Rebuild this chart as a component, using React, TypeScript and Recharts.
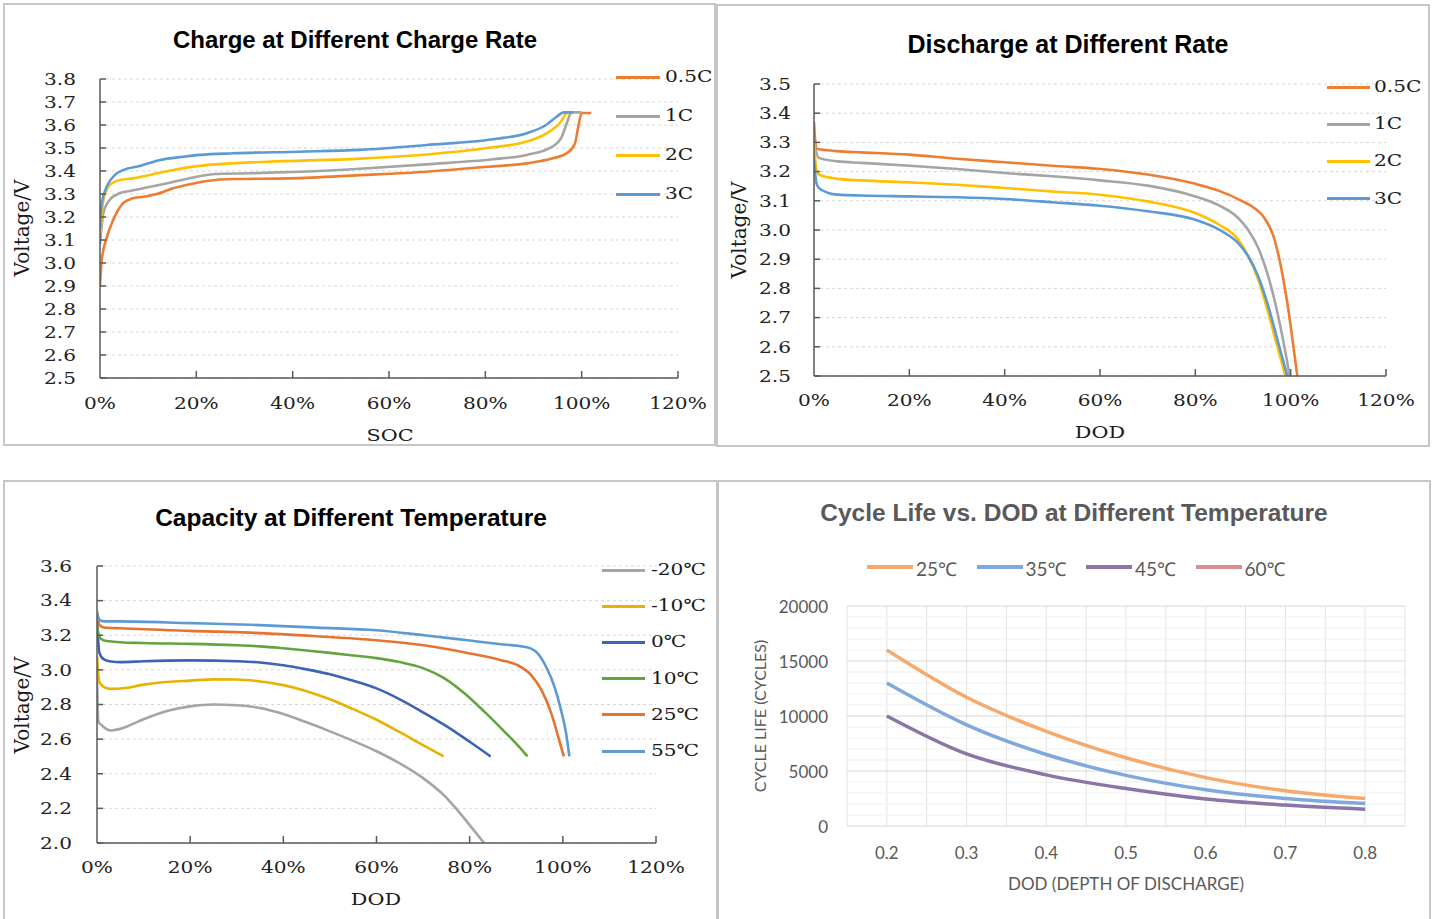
import React from 'react';
import { LineChart, Line, XAxis, YAxis, CartesianGrid } from 'recharts';

const SERIF = '"DejaVu Serif", "Liberation Serif", serif';
const SANS = '"Liberation Sans", Arial, sans-serif';
const LATO = 'Lato, Carlito, "Noto Sans", sans-serif';
const AXIS = '#595959';
const SX = 1.22; // horizontal stretch of the serif labels in the reference

// ---------- Panel 1: Charge at Different Charge Rate ----------
const chargeXTicks = [0, 20, 40, 60, 80, 100, 120];
const chargeYTicks = [2.5, 2.6, 2.7, 2.8, 2.9, 3.0, 3.1, 3.2, 3.3, 3.4, 3.5, 3.6, 3.7, 3.8];
const charge05C = [[0, 2.9], [0.35, 3.01], [1.4, 3.11], [2.8, 3.19], [4.8, 3.26], [6.6, 3.28], [9, 3.288], [11.8, 3.3], [15.2, 3.325], [19.4, 3.346], [24, 3.361], [27.7, 3.365], [39.4, 3.368], [54, 3.382], [67.8, 3.397], [81.6, 3.42], [88.6, 3.433], [94, 3.455], [96.9, 3.477], [98.6, 3.52], [99.3, 3.593], [100, 3.652], [102, 3.652]];
const charge1C = [[0, 3.08], [0.7, 3.216], [2, 3.274], [4.1, 3.303], [6.2, 3.313], [9, 3.325], [13.8, 3.346], [19.4, 3.372], [24, 3.387], [31, 3.39], [41.5, 3.397], [54, 3.41], [67.8, 3.429], [81.6, 3.451], [88.6, 3.47], [93.3, 3.499], [95.7, 3.542], [96.9, 3.607], [97.9, 3.655], [100, 3.655]];
const charge2C = [[0, 3.125], [0.7, 3.274], [2, 3.339], [4.1, 3.361], [6.9, 3.368], [10.4, 3.383], [15.2, 3.404], [19.4, 3.419], [24, 3.429], [34.6, 3.44], [54, 3.454], [67.8, 3.472], [81.6, 3.503], [88.6, 3.528], [93.3, 3.571], [95.7, 3.614], [96.9, 3.652], [98.3, 3.652]];
const charge3C = [[0, 3.155], [0.35, 3.259], [1.4, 3.332], [3.1, 3.383], [4.8, 3.404], [8.3, 3.422], [12.5, 3.448], [17.3, 3.462], [20.8, 3.47], [27.7, 3.477], [41.5, 3.484], [54, 3.492], [67.8, 3.513], [81.6, 3.538], [88.6, 3.564], [92.6, 3.6], [94.8, 3.636], [96.3, 3.655], [98.3, 3.655]];

// ---------- Panel 2: Discharge at Different Rate ----------
const dischargeXTicks = [0, 20, 40, 60, 80, 100, 120];
const dischargeYTicks = [2.5, 2.6, 2.7, 2.8, 2.9, 3.0, 3.1, 3.2, 3.3, 3.4, 3.5];
const dis05C = [[0, 3.37], [0.5, 3.278], [4.8, 3.27], [10, 3.266], [20, 3.258], [30, 3.244], [40, 3.232], [50, 3.22], [60, 3.209], [70, 3.19], [80, 3.158], [85, 3.134], [89.7, 3.1], [92.5, 3.074], [94.5, 3.041], [96.4, 2.978], [97.8, 2.887], [99.2, 2.761], [100.2, 2.647], [101.4, 2.5]];
const dis1C = [[0, 3.3], [1, 3.247], [5, 3.235], [10, 3.23], [20, 3.22], [30, 3.209], [40, 3.195], [50, 3.184], [60, 3.17], [70, 3.152], [80, 3.115], [85, 3.084], [89, 3.041], [91.1, 3.0], [93.2, 2.938], [95.3, 2.841], [97, 2.733], [98.4, 2.624], [99.8, 2.5]];
const dis2C = [[0, 3.3], [0.5, 3.207], [1, 3.19], [5, 3.175], [10, 3.17], [20, 3.163], [30, 3.155], [40, 3.144], [50, 3.132], [60, 3.121], [70, 3.098], [80, 3.058], [85, 3.018], [89, 2.967], [91.1, 2.91], [93.2, 2.83], [95.3, 2.716], [97, 2.613], [98.9, 2.5]];
const dis3C = [[0, 3.24], [0.5, 3.161], [1, 3.144], [3, 3.127], [5, 3.121], [10, 3.118], [20, 3.115], [30, 3.112], [40, 3.106], [50, 3.095], [60, 3.083], [70, 3.064], [80, 3.035], [85, 3.001], [89, 2.955], [91.1, 2.91], [93.2, 2.841], [95.3, 2.739], [97.4, 2.613], [99.3, 2.5]];

// ---------- Panel 3: Capacity at Different Temperature ----------
const tempXTicks = [0, 20, 40, 60, 80, 100, 120];
const tempYTicks = [2.0, 2.2, 2.4, 2.6, 2.8, 3.0, 3.2, 3.4, 3.6];
const tM20 = [[0, 2.95], [0.3, 2.7], [1, 2.68], [3, 2.65], [5, 2.66], [10, 2.715], [15, 2.762], [20, 2.789], [25, 2.8], [30, 2.796], [35, 2.78], [40, 2.745], [45, 2.697], [50, 2.645], [55, 2.59], [60, 2.53], [65, 2.46], [70, 2.375], [74.5, 2.275], [78, 2.17], [81, 2.07], [83.1, 2.0]];
const tM10 = [[0, 3.08], [0.5, 2.93], [1.5, 2.9], [3, 2.89], [6, 2.895], [10, 2.915], [15, 2.93], [20, 2.938], [25, 2.945], [30, 2.944], [35, 2.933], [40, 2.912], [45, 2.877], [50, 2.83], [55, 2.773], [60, 2.712], [65, 2.64], [70, 2.565], [74.4, 2.5]];
const t0 = [[0, 3.3], [0.5, 3.1], [1.5, 3.06], [3, 3.048], [5, 3.045], [10, 3.05], [20, 3.055], [30, 3.05], [35, 3.043], [40, 3.027], [45, 3.003], [50, 2.975], [55, 2.937], [60, 2.893], [65, 2.83], [70, 2.755], [75, 2.675], [80, 2.585], [84.5, 2.5]];
const t10 = [[0, 3.26], [0.5, 3.19], [1.5, 3.17], [5, 3.16], [10, 3.155], [20, 3.15], [30, 3.142], [35, 3.136], [40, 3.125], [45, 3.112], [50, 3.098], [55, 3.083], [60, 3.068], [65, 3.045], [70, 3.01], [74.5, 2.952], [78.8, 2.866], [83.1, 2.76], [87.4, 2.645], [90.3, 2.565], [92.4, 2.5]];
const t25 = [[0, 3.34], [0.5, 3.26], [1.5, 3.245], [5, 3.24], [20, 3.225], [32.8, 3.215], [47.2, 3.194], [60, 3.171], [70.2, 3.142], [79.5, 3.098], [86.7, 3.056], [90.3, 3.027], [93.2, 2.97], [95.4, 2.884], [97.5, 2.75], [99, 2.615], [100.2, 2.5]];
const t55 = [[0, 3.33], [0.5, 3.29], [1.5, 3.28], [5, 3.28], [20, 3.27], [32.8, 3.261], [47.2, 3.244], [60, 3.229], [70.2, 3.2], [79.5, 3.171], [86.7, 3.148], [90.3, 3.139], [93.2, 3.123], [94.6, 3.095], [96.4, 3.018], [98.2, 2.903], [99.6, 2.769], [100.7, 2.634], [101.4, 2.5]];

// ---------- Panel 4: Cycle Life vs DOD ----------
const dodValues = [0.2, 0.3, 0.4, 0.5, 0.6, 0.7, 0.8];
const cycle25 = [16000, 11700, 8600, 6200, 4400, 3200, 2500];
const cycle35 = [13000, 9200, 6500, 4600, 3300, 2500, 2050];
const cycle45 = [10000, 6550, 4650, 3400, 2450, 1900, 1520];
const cycle60: number[] = [];
const cycleYTicks = [0, 5000, 10000, 15000, 20000];
const cycleMinorY = [1000, 2000, 3000, 4000, 6000, 7000, 8000, 9000, 11000, 12000, 13000, 14000, 16000, 17000, 18000, 19000];
const cycleGridX = [0.15, 0.2, 0.25, 0.3, 0.35, 0.4, 0.45, 0.5, 0.55, 0.6, 0.65, 0.7, 0.75, 0.8, 0.85];

type Series = { name: string; color: string; data: number[][] };

const chargeSeries: Series[] = [
  { name: '0.5C', color: '#ed7d31', data: charge05C },
  { name: '1C', color: '#a5a5a5', data: charge1C },
  { name: '2C', color: '#ffc000', data: charge2C },
  { name: '3C', color: '#5b9bd5', data: charge3C },
];
const dischargeSeries: Series[] = [
  { name: '0.5C', color: '#ed7d31', data: dis05C },
  { name: '1C', color: '#a5a5a5', data: dis1C },
  { name: '2C', color: '#ffc000', data: dis2C },
  { name: '3C', color: '#5b9bd5', data: dis3C },
];
const tempSeries: Series[] = [
  { name: '-20℃', color: '#a5a5a5', data: tM20 },
  { name: '-10℃', color: '#e8b200', data: tM10 },
  { name: '0℃', color: '#3d62b6', data: t0 },
  { name: '10℃', color: '#62a43e', data: t10 },
  { name: '25℃', color: '#e4742f', data: t25 },
  { name: '55℃', color: '#5b9bd5', data: t55 },
];
const cycleSeries = [
  { name: '25℃', color: '#f7a96c', values: cycle25 },
  { name: '35℃', color: '#7fa8dc', values: cycle35 },
  { name: '45℃', color: '#8975a6', values: cycle45 },
  { name: '60℃', color: '#d98e90', values: cycle60 },
];

const toPts = (arr: number[][]) => arr.map(([x, y]) => ({ x, y }));

type Rect = { left: number; top: number; width: number; height: number };
type Plot = { x0: number; x1: number; y0: number; y1: number };

const YW = 40;
const XH = 30;

function margins(p: Rect, plot: Plot) {
  return {
    top: plot.y0 - p.top,
    right: p.left + p.width - plot.x1,
    bottom: p.top + p.height - plot.y1 - XH,
    left: plot.x0 - p.left - YW,
  };
}

function Txt(props: { x: number; y: number; size: number; family: string; children: React.ReactNode; weight?: number | string; color?: string; rotate?: boolean; anchor?: 'center' | 'left'; sx?: number }) {
  const { x, y, size, family, children, weight = 'normal', color = '#1a1a1a', rotate, anchor = 'center', sx = 1 } = props;
  const tf = anchor === 'center'
    ? `translate(-50%, -50%)${rotate ? ' rotate(-90deg)' : ''} scaleX(${sx})`
    : `translate(0, -50%) scaleX(${sx})`;
  return (
    <div style={{ position: 'absolute', left: x, top: y, transform: tf, transformOrigin: anchor === 'left' ? 'left center' : 'center center', fontFamily: family, fontSize: size, fontWeight: weight as any, color, whiteSpace: 'pre', lineHeight: 1 }}>
      {children}
    </div>
  );
}

function SvgLabel(props: { x: number; y: number; anchor: 'start' | 'middle' | 'end'; children: React.ReactNode }) {
  const { x, y, anchor, children } = props;
  return (
    <text transform={`translate(${x},${y}) scale(${SX},1)`} x={0} y={0} textAnchor={anchor} dominantBaseline="central"
      fontFamily={SERIF} fontSize={16.5} fill="#222">{children}</text>
  );
}

function VoltagePanel(props: {
  rect: Rect; plot: Plot; xTicks: number[]; yTicks: number[]; series: Series[];
  yLabelGap: number; xLabelGap: number;
}) {
  const { rect, plot, xTicks, yTicks, series, yLabelGap, xLabelGap } = props;
  const yMin = yTicks[0];
  const yMax = yTicks[yTicks.length - 1];
  const XTick = (tp: any) => {
    const { x, y, payload } = tp;
    return (
      <g>
        {payload.value !== 0 && <line x1={x} y1={y} x2={x} y2={y - 7} stroke={AXIS} strokeWidth={1.5} />}
        <SvgLabel x={x} y={y + xLabelGap} anchor="middle">{`${payload.value}%`}</SvgLabel>
      </g>
    );
  };
  const YTick = (tp: any) => {
    const { x, y, payload } = tp;
    return (
      <g>
        <line x1={x} y1={y} x2={x + 6} y2={y} stroke={AXIS} strokeWidth={1.5} />
        <SvgLabel x={x - yLabelGap} y={y} anchor="end">{Number(payload.value).toFixed(1)}</SvgLabel>
      </g>
    );
  };
  return (
    <div style={{ position: 'absolute', left: rect.left, top: rect.top, width: rect.width, height: rect.height }}>
      <LineChart width={rect.width} height={rect.height} margin={margins(rect, plot)}>
        <CartesianGrid vertical={false} strokeDasharray="3 3" stroke="#d6d6d6" strokeWidth={1} />
        <XAxis type="number" dataKey="x" domain={[0, 120]} ticks={xTicks} interval={0} height={XH}
          tickSize={0} tickMargin={0} tickLine={false} axisLine={{ stroke: AXIS, strokeWidth: 1.5 }} tick={XTick} allowDataOverflow />
        <YAxis type="number" domain={[yMin, yMax]} ticks={yTicks} interval={0} width={YW}
          tickSize={0} tickMargin={0} tickLine={false} axisLine={{ stroke: AXIS, strokeWidth: 1.5 }} tick={YTick} allowDataOverflow />
        {series.map((s) => (
          <Line key={s.name} name={s.name} data={toPts(s.data)} dataKey="y" type="monotone" stroke={s.color}
            strokeWidth={2.6} dot={false} activeDot={false} isAnimationActive={false} />
        ))}
      </LineChart>
    </div>
  );
}

function VLegend(props: { series: { name: string; color: string }[]; x0: number; x1: number; tx: number; y0: number; dy: number }) {
  const { series, x0, x1, tx, y0, dy } = props;
  return (
    <>
      {series.map((s, i) => (
        <React.Fragment key={s.name}>
          <div style={{ position: 'absolute', left: x0, top: y0 + i * dy - 1.5, width: x1 - x0, height: 3, background: s.color }} />
          <Txt x={tx} y={y0 + i * dy} size={16.5} sx={SX} family={SERIF} anchor="left">{s.name}</Txt>
        </React.Fragment>
      ))}
    </>
  );
}

function CyclePanel() {
  const rect: Rect = { left: 718, top: 481, width: 712, height: 438 };
  const plot: Plot = { x0: 847, x1: 1405, y0: 606, y1: 826 };
  const rows = dodValues.map((d, i) => {
    const r: any = { x: d };
    cycleSeries.forEach((s) => { r[s.name] = s.values.length ? s.values[i] : null; });
    return r;
  });
  const XTick = (tp: any) => {
    const { x, y, payload } = tp;
    return <text x={x} y={y + 26} textAnchor="middle" dominantBaseline="central" fontFamily={LATO} fontSize={17} fill="#595959">{Number(payload.value).toFixed(1)}</text>;
  };
  const YTick = (tp: any) => {
    const { x, y, payload } = tp;
    return <text x={x - 19} y={y} textAnchor="end" dominantBaseline="central" fontFamily={LATO} fontSize={17} fill="#595959">{payload.value}</text>;
  };
  return (
    <div style={{ position: 'absolute', left: rect.left, top: rect.top, width: rect.width, height: rect.height }}>
      <LineChart width={rect.width} height={rect.height} data={rows} margin={margins(rect, plot)}>
        <CartesianGrid horizontal={false} verticalValues={cycleGridX} stroke="#e3e3e3" strokeWidth={1} />
        <CartesianGrid vertical={false} horizontalValues={cycleMinorY} stroke="#efefef" strokeWidth={1} />
        <CartesianGrid vertical={false} horizontalValues={cycleYTicks} stroke="#d6d6d6" strokeWidth={1} />
        <XAxis type="number" dataKey="x" domain={[0.15, 0.85]} ticks={dodValues} interval={0} height={XH}
          tickSize={0} tickMargin={0} tickLine={false} axisLine={false} tick={XTick} />
        <YAxis type="number" domain={[0, 20000]} ticks={cycleYTicks} interval={0} width={YW}
          tickSize={0} tickMargin={0} tickLine={false} axisLine={false} tick={YTick} />
        {cycleSeries.map((s) => (
          <Line key={s.name} name={s.name} dataKey={s.name} type="monotone" stroke={s.color} strokeWidth={3.5}
            dot={false} activeDot={false} isAnimationActive={false} connectNulls={false} />
        ))}
      </LineChart>
    </div>
  );
}

export default function App() {
  const border = '2px solid #c6c6c6';
  return (
    <div style={{ position: 'absolute', left: 0, top: 0, width: 1434, height: 919, background: '#fff', overflow: 'hidden' }}>
      {/* panel frames */}
      <div style={{ position: 'absolute', left: 3, top: 3, width: 713, height: 443, border, boxSizing: 'border-box' }} />
      <div style={{ position: 'absolute', left: 716, top: 4, width: 714, height: 443, border, boxSizing: 'border-box' }} />
      <div style={{ position: 'absolute', left: 3, top: 480, width: 715, height: 450, border, boxSizing: 'border-box' }} />
      <div style={{ position: 'absolute', left: 717, top: 480, width: 714, height: 450, border, boxSizing: 'border-box' }} />

      {/* Panel 1 */}
      <VoltagePanel rect={{ left: 4, top: 4, width: 712, height: 442 }} plot={{ x0: 100, x1: 678, y0: 79, y1: 378 }}
        xTicks={chargeXTicks} yTicks={chargeYTicks} series={chargeSeries} yLabelGap={24} xLabelGap={25} />
      <Txt x={355} y={40} size={24} family={SANS} weight="bold" color="#000">Charge at Different Charge Rate</Txt>
      <Txt x={22} y={228} size={20} family={SERIF} rotate>Voltage/V</Txt>
      <Txt x={390} y={435} size={17} sx={SX} family={SERIF}>SOC</Txt>
      <VLegend series={chargeSeries} x0={616} x1={660} tx={665} y0={77} dy={39} />

      {/* Panel 2 */}
      <VoltagePanel rect={{ left: 717, top: 5, width: 712, height: 442 }} plot={{ x0: 814, x1: 1386, y0: 84, y1: 376 }}
        xTicks={dischargeXTicks} yTicks={dischargeYTicks} series={dischargeSeries} yLabelGap={23} xLabelGap={24} />
      <Txt x={1068} y={44} size={25} family={SANS} weight="bold" color="#000">Discharge at Different Rate</Txt>
      <Txt x={739} y={230} size={20} family={SERIF} rotate>Voltage/V</Txt>
      <Txt x={1100} y={432} size={17} sx={SX} family={SERIF}>DOD</Txt>
      <VLegend series={dischargeSeries} x0={1327} x1={1370} tx={1374} y0={87} dy={37.2} />

      {/* Panel 3 */}
      <VoltagePanel rect={{ left: 4, top: 481, width: 714, height: 438 }} plot={{ x0: 97, x1: 656, y0: 566, y1: 843 }}
        xTicks={tempXTicks} yTicks={tempYTicks} series={tempSeries} yLabelGap={25} xLabelGap={24} />
      <Txt x={351} y={518} size={24.5} family={SANS} weight="bold" color="#000">Capacity at Different Temperature</Txt>
      <Txt x={22} y={705} size={20} family={SERIF} rotate>Voltage/V</Txt>
      <Txt x={376} y={899} size={17} sx={SX} family={SERIF}>DOD</Txt>
      <VLegend series={tempSeries} x0={602} x1={645} tx={651} y0={570} dy={36.2} />

      {/* Panel 4 */}
      <CyclePanel />
      <Txt x={1074} y={513} size={24.5} family={SANS} weight="bold" color="#595959">Cycle Life vs. DOD at Different Temperature</Txt>
      <Txt x={760} y={716} size={16} family={LATO} color="#595959" rotate>CYCLE LIFE (CYCLES)</Txt>
      <Txt x={1126} y={883} size={17} family={LATO} color="#595959">DOD (DEPTH OF DISCHARGE)</Txt>
      {cycleSeries.map((s, i) => (
        <React.Fragment key={s.name}>
          <div style={{ position: 'absolute', left: 867 + i * 109.5, top: 565, width: 46, height: 3.5, background: s.color }} />
          <Txt x={916 + i * 109.5} y={568} size={19} family={LATO} color="#595959" anchor="left">{s.name}</Txt>
        </React.Fragment>
      ))}
    </div>
  );
}
